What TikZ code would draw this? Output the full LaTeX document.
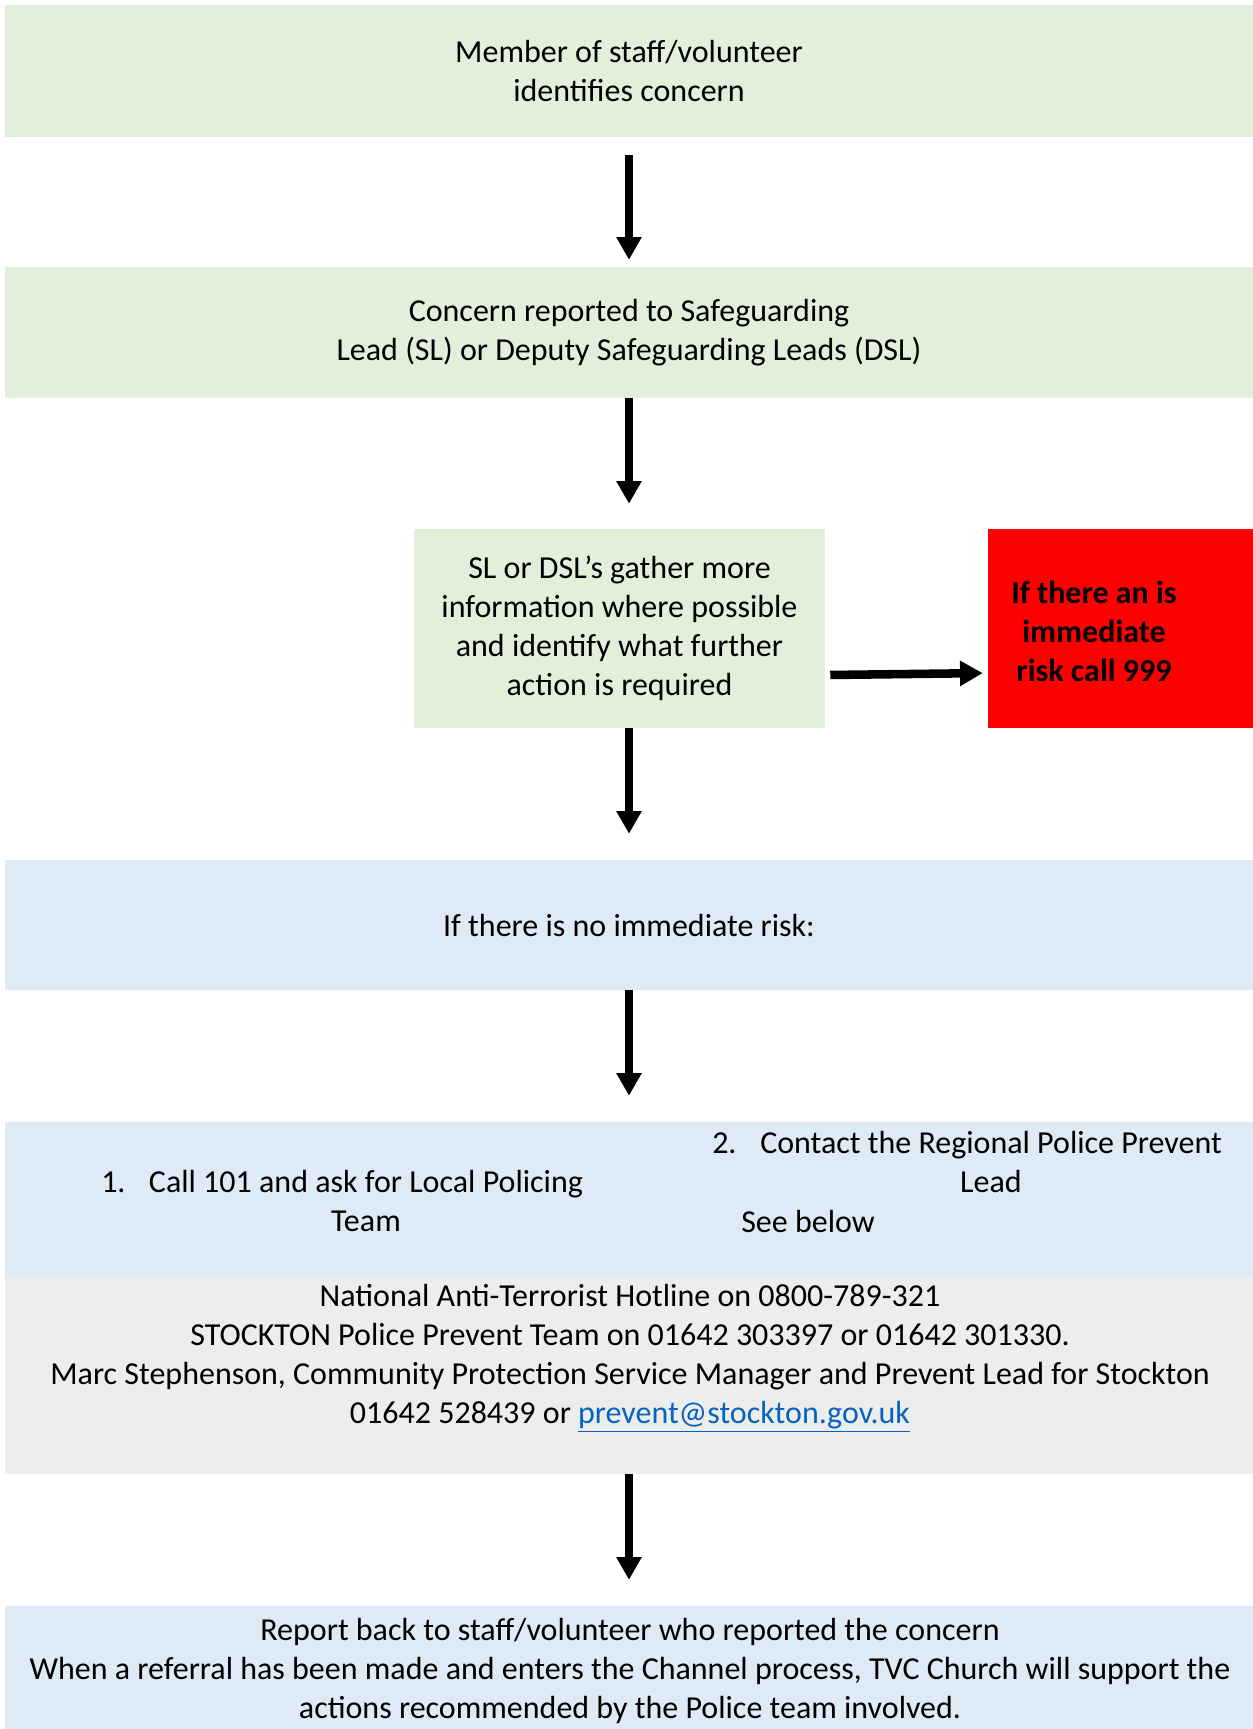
\documentclass[tikz,border=0pt]{standalone}
\usepackage{fontspec}
\setmainfont{Carlito}
\usetikzlibrary{arrows.meta}
\definecolor{boxgreen}{HTML}{E2EFDA}
\definecolor{boxblue}{HTML}{DEEAF6}
\definecolor{boxgrey}{HTML}{EDEDED}
\definecolor{linkblue}{HTML}{0563C1}

\begin{document}
\begin{tikzpicture}[x=0.75pt,y=0.75pt,yscale=-1,xscale=1,
  flowbox/.style={inner sep=0pt,minimum width=936pt,align=center,font=\fontsize{24}{29.3}\selectfont},
  flowtext/.style={inner sep=0.75pt,align=center,font=\fontsize{24}{29.3}\selectfont},
  flowarrow/.style={line width=6.4pt,-{Triangle[length=17pt,width=18pt]}}]
%set diagram size 1253 x 1729
\path[use as bounding box] (0,0) rectangle (1253,1729);

% Box Node
\node [flowbox,fill=boxgreen,minimum height=99pt] (concern) at (629,71) {Member of staff/volunteer\\identifies concern};
% Box Node
\node [flowbox,fill=boxgreen,minimum height=98.25pt] (report) at (629,332.5) {Concern reported to Safeguarding\\Lead (SL) or Deputy Safeguarding Leads (DSL)};
% Box Node
\node [flowbox,fill=boxgreen,minimum width=308.25pt,minimum height=149.25pt] (gather) at (619.5,628.5) {SL or DSL’s gather more\\information where possible\\and identify what further\\action is required};
% Box Node
\node [flowbox,fill=red,minimum width=198.75pt,minimum height=149.25pt] (urgent) at (1120.5,628.5) {};
% Text Node
\node [flowtext,font=\fontsize{24}{29.3}\selectfont\bfseries] (urgenttxt) at (1094,631) {If there an is\\immediate\\risk call 999};
% Box Node
\node [flowbox,fill=boxblue,minimum height=97.5pt] (norisk) at (629,925) {If there is no immediate risk:};
% Box Node
\node [flowbox,fill=boxblue,minimum height=116.25pt] (options) at (629,1199.5) {};
% Text Node
\node [flowtext,anchor=west] (onenum) at (100,1182) {1.};
% Text Node
\node [flowtext] (onetxt) at (366,1201) {Call 101 and ask for Local Policing\\Team};
% Text Node
\node [flowtext,anchor=west] (twonum) at (711,1143) {2.};
% Text Node
\node [flowtext] (twotxt) at (991,1162) {Contact the Regional Police Prevent\\Lead};
% Text Node
\node [flowtext] (seebelow) at (808,1221) {See below};
% Box Node
\node [flowbox,fill=boxgrey,minimum height=147.75pt] (contacts) at (629,1375.5) {};
% Text Node
\node [flowtext] (contactstxt) at (630,1358) {National Anti-Terrorist Hotline on 0800-789-321\\STOCKTON Police Prevent Team on 01642 303397 or 01642 301330.\\Marc Stephenson, Community Protection Service Manager and Prevent Lead for Stockton\\01642 528439 or \textcolor{linkblue}{\underline{prevent@stockton.gov.uk}}};
% Box Node
\node [flowbox,fill=boxblue,minimum height=92.25pt] (feedback) at (629,1667.5) {};
% Text Node
\node [flowtext] (feedbacktxt) at (630,1671) {Report back to staff/volunteer who reported the concern\\When a referral has been made and enters the Channel process, TVC Church will support the\\actions recommended by the Police team involved.};

% Connection
\draw [flowarrow,shorten <=13.5pt,shorten >=5.25pt] (concern) -- (report);
% Connection
\draw [flowarrow,shorten >=18.75pt] (report.south) -- (report.south |- gather.north);
% Connection
\draw [flowarrow,shorten <=3.75pt,shorten >=3.75pt] ([yshift=34.9pt]gather.east) -- ([yshift=33.4pt]urgent.west);
% Connection
\draw [flowarrow,shorten >=19.5pt] (gather.south -| norisk.north) -- (norisk.north);
% Connection
\draw [flowarrow,shorten >=19.5pt] (norisk) -- (options);
% Connection
\draw [flowarrow,shorten >=19.5pt] (contacts) -- (feedback);

\end{tikzpicture}
\end{document}
